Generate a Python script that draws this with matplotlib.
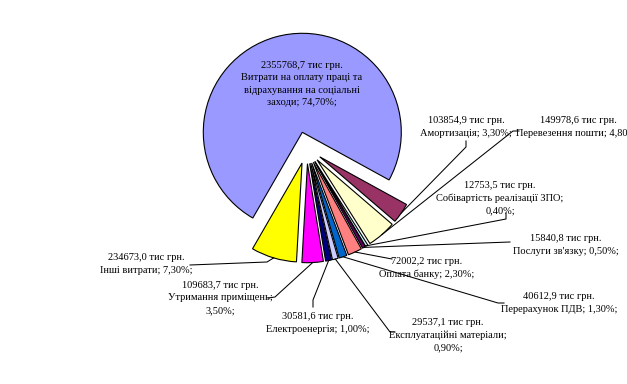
import numpy as np
import matplotlib
matplotlib.use("Agg")
import matplotlib.pyplot as plt

plt.rcParams['font.family'] = ['Liberation Serif', 'DejaVu Serif']

# витрати, тис. грн
names = ["Витрати на оплату праці та відрахування на соціальні заходи",
         "Амортизація", "Перевезення пошти", "Собівартість реалізації ЗПО",
         "Послуги зв'язку", "Оплата банку", "Перерахунок ПДВ",
         "Експлуатаційні матеріали", "Електроенергія", "Утримання приміщень",
         "Інші витрати"]
amounts = [2355768.7, 103854.9, 149978.6, 12753.5, 15840.8, 72002.2,
           40612.9, 29537.1, 30581.6, 109683.7, 234673.0]
shares = [74.70, 3.30, 4.80, 0.40, 0.50, 2.30, 1.30, 0.90, 1.00, 3.50, 7.30]
colors = ["#9999FF", "#993366", "#FFFFCC", "#CCFFFF", "#660066", "#FF8080",
          "#0066CC", "#CCCCFF", "#000080", "#FF00FF", "#FFFF00"]

# label layout: template, text centre (px), leader path after the wedge (px)
templates = [
    "{v} тис грн.\nВитрати на оплату праці та\nвідрахування на соціальні\nзаходи; {p};",
    "{v} тис грн.\nАмортизація; {p};",
    "{v} тис грн.\nПеревезення пошти; {p};",
    "{v} тис грн.\nСобівартість реалізації ЗПО;\n{p};",
    "{v} тис грн.\nПослуги зв'язку; {p};",
    "{v} тис грн.\nОплата банку; {p};",
    "{v} тис грн.\nПерерахунок ПДВ; {p};",
    "{v} тис грн.\nЕксплуатаційні матеріали;\n{p};",
    "{v} тис грн.\nЕлектроенергія; {p};",
    "{v} тис грн.\nУтримання приміщень;\n{p};",
    "{v} тис грн.\nІнші витрати; {p};",
]
text_pos = [(302, 84), (466, 127), (578, 127), (500, 198), (566, 245),
            (427, 268), (559, 303), (448, 335), (318, 323), (220, 298),
            (146, 264)]
leaders = [None,
           [(466, 147), (466, 141)],
           [(513, 131), (519, 131)],
           [(506, 219), (506, 213)],
           [(510, 242)],
           [(392, 259)],
           [(498, 303), (504, 303)],
           [(390, 332), (395, 332)],
           [(313, 300), (313, 307)],
           [(275, 297), (268, 298)],
           [(267, 262), (190, 265)]]

W, H = 627, 384
fig = plt.figure(figsize=(W / 100, H / 100), dpi=100)
ax = fig.add_axes([0, 0, 1, 1])

cx, cy = 306.6, H - 147.7
R = 99
wedges, _ = ax.pie(amounts, colors=colors, startangle=240, counterclock=False,
                   radius=R, center=(cx, cy), explode=[16] * len(amounts),
                   wedgeprops=dict(edgecolor="black", linewidth=0.8))

ax.set_xlim(0, W)
ax.set_ylim(0, H)
ax.set_aspect("equal")
ax.axis("off")

for i, w in enumerate(wedges):
    v = f"{amounts[i]:.1f}".replace(".", ",")
    p = f"{shares[i]:.2f}".replace(".", ",") + "%"
    tx, ty = text_pos[i]
    ax.text(tx, H - ty, templates[i].format(v=v, p=p), ha="center", va="center",
            fontsize=7.5, linespacing=1.5, clip_on=False)
    if leaders[i] is None:
        continue
    th = np.deg2rad((w.theta1 + w.theta2) / 2)
    x0 = w.center[0] + w.r * np.cos(th)
    y0 = w.center[1] + w.r * np.sin(th)
    xs = [x0] + [q[0] for q in leaders[i]]
    ys = [y0] + [H - q[1] for q in leaders[i]]
    ax.plot(xs, ys, color="black", linewidth=0.75, clip_on=False)

plt.savefig("out.png", dpi=100)
